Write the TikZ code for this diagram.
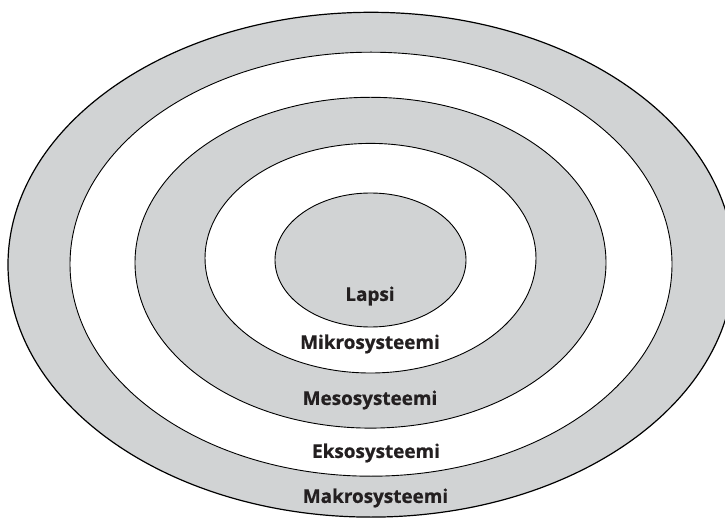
\documentclass[tikz,border=0pt]{standalone}
\usepackage{fontspec}
\setmainfont{Open Sans}[BoldFeatures={FakeBold=0.8}]
\definecolor{ringgray}{HTML}{D1D3D4}
\definecolor{textdark}{HTML}{231F20}
\begin{document}
\begin{tikzpicture}[x=1pt,y=-1pt,
  ring/.style={draw=black,line width=0.9pt},
  lbl/.style={font=\bfseries\fontsize{18.9}{22}\selectfont,inner sep=0pt,text=textdark}]
\useasboundingbox (0,0) rectangle (725,518);
\clip (0,0) rectangle (725,518);
\fill[white] (0,0) rectangle (725,518);
\draw[ring,fill=ringgray,line width=1.2pt] (371,264.7) ellipse [x radius=363,y radius=252.4];
\draw[ring,fill=white] (371,264.2) ellipse [x radius=301,y radius=212];
\draw[ring,fill=ringgray] (370.5,262.7) ellipse [x radius=235.5,y radius=165.4];
\draw[ring,fill=white] (370.5,258.2) ellipse [x radius=165.5,y radius=114.8];
\draw[ring,fill=ringgray] (370.5,260) ellipse [x radius=95.5,y radius=67];
\node[lbl] (lapsi) at (370,296) {Lapsi};
\node[lbl] (mikro) at (370,344) {Mikrosysteemi};
\node[lbl] (meso) at (370,400) {Mesosysteemi};
\node[lbl] (ekso) at (376,453) {Eksosysteemi};
\node[lbl] (makro) at (375.5,498) {Makrosysteemi};
\end{tikzpicture}
\end{document}
